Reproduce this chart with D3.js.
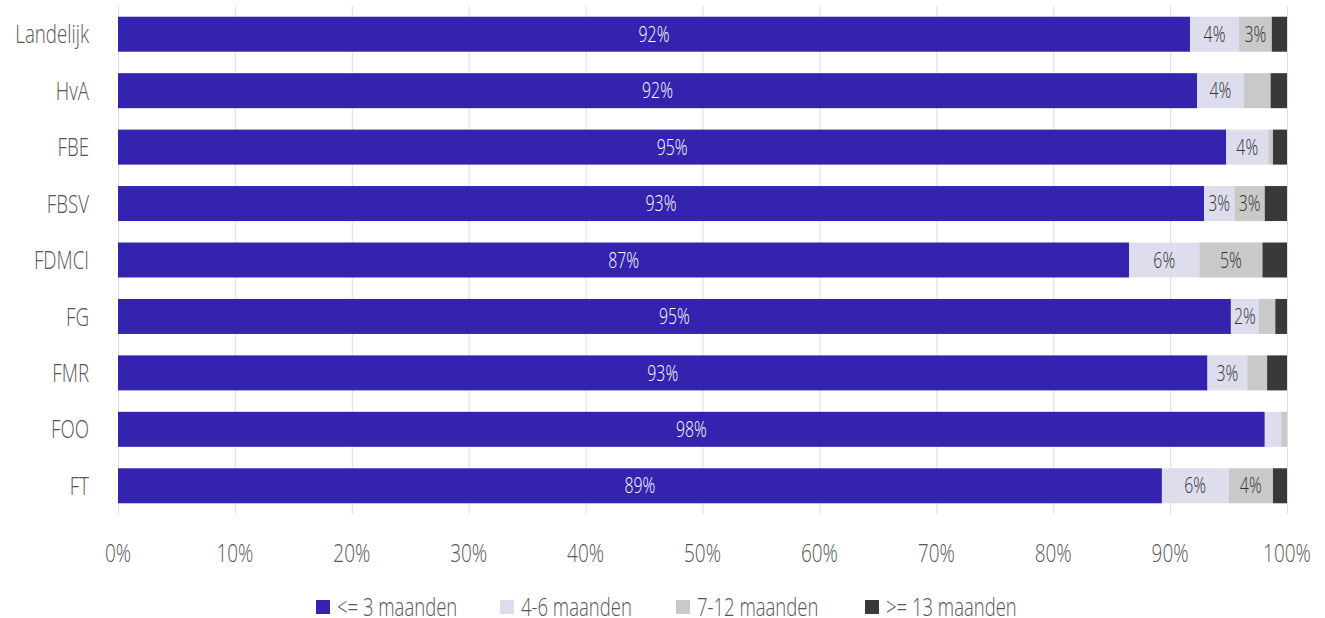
<!DOCTYPE html>
<html>
<head>
<meta charset="utf-8">
<script src="https://cdn.jsdelivr.net/npm/d3@7"></script>
<style>
  html, body { margin: 0; padding: 0; background: #fff; }
  svg { display: block; font-family: "Open Sans", sans-serif; font-weight: 300; }
</style>
</head>
<body>
<svg id="chart" width="1325" height="618"></svg>
<script>
// Duur tot eerste baan, per faculteit (aandeel in %)
const categories = ["Landelijk", "HvA", "FBE", "FBSV", "FDMCI", "FG", "FMR", "FOO", "FT"];
const seriesNames = ["<= 3 maanden", "4-6 maanden", "7-12 maanden", ">= 13 maanden"];
const upTo3 =       [91.7, 92.3, 94.8, 92.9, 86.5, 95.2, 93.2, 98.1, 89.3];
const months4to6 =  [4.2, 4.0, 3.6, 2.6, 6.0, 2.4, 3.4, 1.4, 5.7];
const months7to12 = [2.8, 2.3, 0.4, 2.6, 5.4, 1.4, 1.7, 0.5, 3.8];
const from13 =      [1.3, 1.4, 1.2, 1.9, 2.1, 1.0, 1.7, 0.0, 1.2];
const xTicks = [0, 10, 20, 30, 40, 50, 60, 70, 80, 90, 100];

const colors = ["#3323ae", "#dddded", "#c9c9c9", "#3a3838"];
const labelColors = ["#ffffff", "#333333", "#333333", "#ffffff"];
const textGrey = "#555555";
const labelMin = 2.4;       // smallest segment (in %) that gets a value label
const squeeze = 0.72;       // horizontal condensing of the typeface

const seriesValues = [upTo3, months4to6, months7to12, from13];
const rows = categories.map((c, i) => {
  const r = { cat: c };
  seriesNames.forEach((s, k) => r[s] = seriesValues[k][i]);
  return r;
});

const svg = d3.select("#chart");
const x = d3.scaleLinear().domain([0, 100]).range([118, 1287]);
const y = d3.scaleBand().domain(categories).range([6, 514]).paddingInner(0.38).paddingOuter(0.19);

// condensed text helper
function ctext(sel, tx, ty, s) {
  return sel.append("text")
    .attr("transform", `translate(${tx},${ty}) scale(${s || squeeze},1)`);
}

// vertical gridlines, running a little below the bars as tick marks
svg.append("g")
  .attr("transform", "translate(0,514)")
  .call(d3.axisBottom(x).tickValues(xTicks).tickSize(-508).tickFormat(""))
  .call(g => g.select(".domain").remove())
  .call(g => g.selectAll("line").attr("stroke", "#dedede").attr("stroke-width", 1));

// x tick labels
const tickG = svg.append("g");
xTicks.forEach(t => {
  ctext(tickG, x(t), 553, 0.76)
    .attr("dy", "0.35em").attr("text-anchor", "middle")
    .attr("font-size", 25).attr("fill", textGrey)
    .text(t + "%");
});

// category labels
const catG = svg.append("g");
categories.forEach(c => {
  ctext(catG, 89, y(c) + y.bandwidth() / 2)
    .attr("dy", "0.35em").attr("text-anchor", "end")
    .attr("font-size", 26).attr("fill", textGrey)
    .text(c);
});

// stacked bars
const stacked = d3.stack().keys(seriesNames)(rows);

svg.append("g").selectAll("g").data(stacked).join("g")
  .attr("fill", (d, i) => colors[i])
  .selectAll("rect").data(d => d).join("rect")
  .attr("x", d => x(d[0]))
  .attr("y", d => y(d.data.cat))
  .attr("width", d => x(d[1]) - x(d[0]))
  .attr("height", y.bandwidth());

// value labels
const labels = svg.append("g");
stacked.forEach((layer, i) => {
  layer.filter(d => d[1] - d[0] >= labelMin).forEach(d => {
    ctext(labels, (x(d[0]) + x(d[1])) / 2, y(d.data.cat) + y.bandwidth() / 2)
      .attr("dy", "0.35em").attr("text-anchor", "middle")
      .attr("font-size", 22).attr("fill", labelColors[i])
      .text(Math.round(d[1] - d[0]) + "%");
  });
});

// legend
const legendX = [316, 500, 676, 865];
const legend = svg.append("g");
seriesNames.forEach((s, i) => {
  legend.append("rect")
    .attr("x", legendX[i]).attr("y", 600).attr("width", 14).attr("height", 14)
    .attr("fill", colors[i]);
  ctext(legend, legendX[i] + 21, 607, 0.74)
    .attr("dy", "0.35em").attr("font-size", 25).attr("fill", textGrey)
    .text(s);
});
</script>
</body>
</html>
